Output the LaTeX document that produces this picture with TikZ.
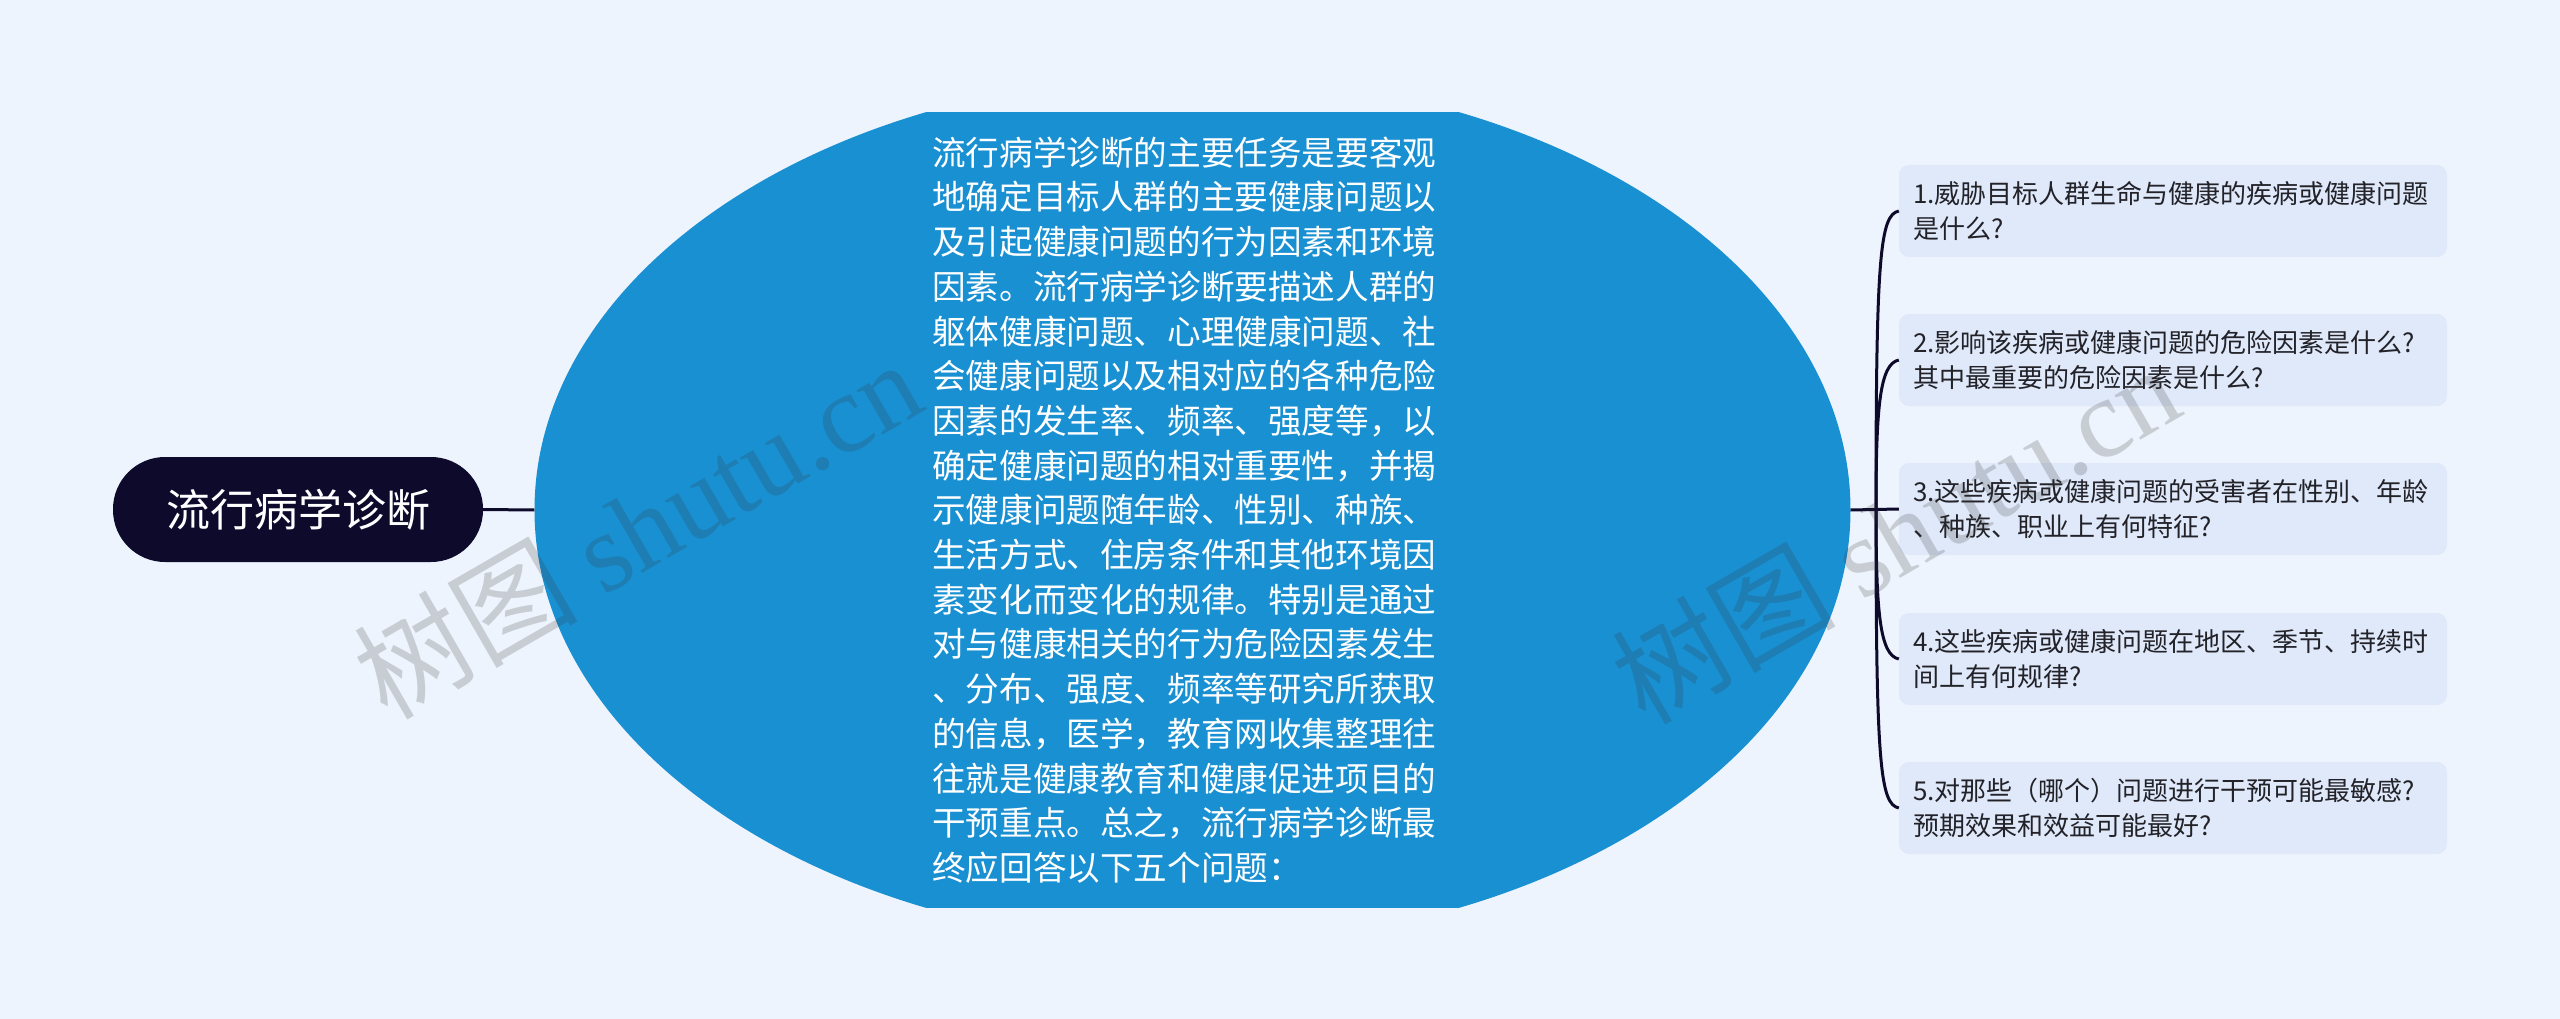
\documentclass[tikz,border=0pt]{standalone}
\usepackage{fontspec}
\setmainfont{Noto Sans CJK SC}
\newfontfamily\wmserif{Liberation Serif}
\usetikzlibrary{shapes.geometric}
\definecolor{bgc}{RGB}{238,244,253}
\definecolor{leafc}{RGB}{223,233,250}
\definecolor{midc}{RGB}{25,144,210}
\definecolor{rootc}{RGB}{13,10,44}
\definecolor{txtc}{RGB}{34,34,40}
\tikzset{
  conn/.style={draw=rootc, line width=3pt},
  rootbox/.style={fill=rootc, text=white, rounded corners=52pt, minimum width=370pt, minimum height=105pt, inner sep=0pt, font=\fontsize{44}{50}\selectfont},
  leafbox/.style={fill=leafc, text=txtc, rounded corners=10pt, text width=520pt, inner xsep=14pt, inner ysep=0pt, minimum height=92pt, align=left, font=\fontsize{26}{35}\selectfont},
  midtext/.style={text=white, align=left, inner sep=0pt, font=\fontsize{33.6}{44.7}\selectfont},
  wm/.style={text=black!80, text opacity=0.2, inner sep=0pt, font=\fontsize{112}{120}\selectfont}
}
\begin{document}
\begin{tikzpicture}[x=1pt,y=-1pt]
\useasboundingbox (0,0) rectangle (2560,1019);
\fill[bgc] (0,0) rectangle (2560,1019);

% central shape: ellipse clipped flat at top and bottom
\begin{scope}
\clip (500,113) rectangle (1900,907);
\fill[midc] (1192.5,510) ellipse [x radius=658pt, y radius=435pt];
\end{scope}
\node[ellipse, minimum width=1316pt, minimum height=870pt, inner sep=0pt] (mid) at (1192.5,510) {};
\node[midtext, anchor=west] (midt) at (932,510) {流行病学诊断的主要任务是要客观\\
地确定目标人群的主要健康问题以\\
及引起健康问题的行为因素和环境\\
因素。流行病学诊断要描述人群的\\
躯体健康问题、心理健康问题、社\\
会健康问题以及相对应的各种危险\\
因素的发生率、频率、强度等，以\\
确定健康问题的相对重要性，并揭\\
示健康问题随年龄、性别、种族、\\
生活方式、住房条件和其他环境因\\
素变化而变化的规律。特别是通过\\
对与健康相关的行为危险因素发生\\
、分布、强度、频率等研究所获取\\
的信息，医学，教育网收集整理往\\
往就是健康教育和健康促进项目的\\
干预重点。总之，流行病学诊断最\\
终应回答以下五个问题：};

% root
\node[rootbox] (root) at (298,509.5) {流行病学诊断};

% leaves
\node[leafbox] (l1) at (2173,211) {1.威胁目标人群生命与健康的疾病或健康问题\\是什么?};
\node[leafbox] (l2) at (2173,360) {2.影响该疾病或健康问题的危险因素是什么?\\其中最重要的危险因素是什么?};
\node[leafbox] (l3) at (2173,509) {3.这些疾病或健康问题的受害者在性别、年龄\\、种族、职业上有何特征?};
\node[leafbox] (l4) at (2173,659) {4.这些疾病或健康问题在地区、季节、持续时\\间上有何规律?};
\node[leafbox] (l5) at (2173,808) {5.对那些（哪个）问题进行干预可能最敏感?\\预期效果和效益可能最好?};

% connectors
\coordinate (trunk) at (1876,509);
\draw[conn] (root.east) -- (mid.west);
\draw[conn] (mid.east) -- (l3.west);
\draw[conn] (trunk) .. controls (1876,256) and (1880,215) .. (l1.west);
\draw[conn] (trunk) .. controls (1876,405) and (1880,364) .. (l2.west);
\draw[conn] (trunk) .. controls (1876,614) and (1880,655) .. (l4.west);
\draw[conn] (trunk) .. controls (1876,763) and (1880,804) .. (l5.west);

% watermarks
\node[wm, rotate=30] (wm1) at (637,528) {树图 {\wmserif shutu.cn}};
\node[wm, rotate=30] (wm2) at (1895,533) {树图 {\wmserif shutu.cn}};
\end{tikzpicture}
\end{document}
